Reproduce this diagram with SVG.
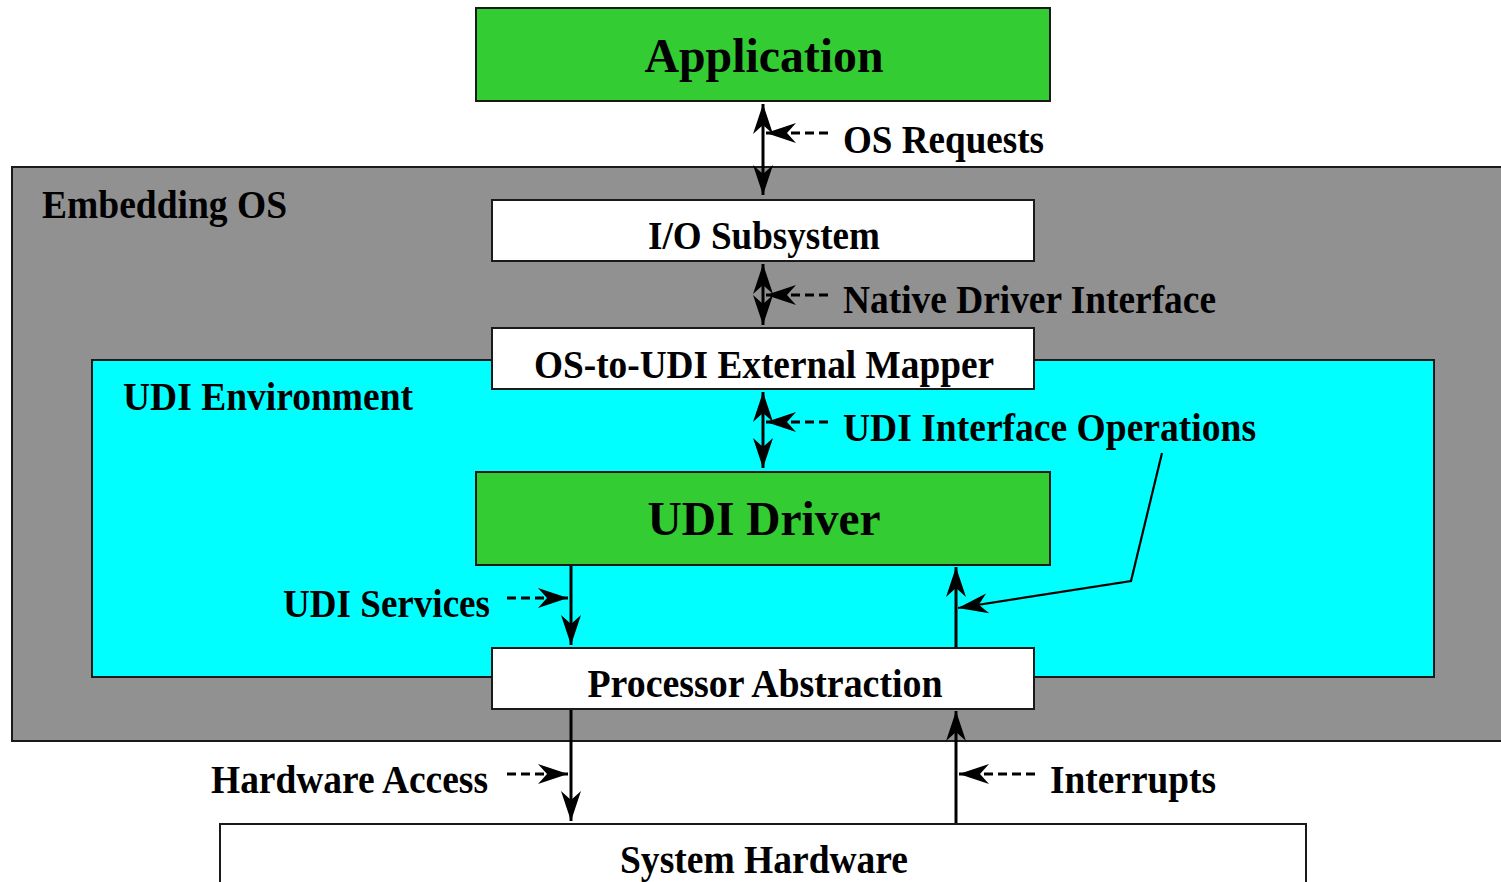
<svg xmlns="http://www.w3.org/2000/svg" width="1501" height="882" viewBox="0 0 1501 882">
<style>
  text { font-family: "Liberation Serif", "Times New Roman", serif; font-weight: bold; fill: #000; }
  .big { font-size: 48px; }
  .mid { font-size: 40px; }
  .box { stroke: #1a1a1a; stroke-width: 2; }
  .green { fill: #33cc33; }
  .white { fill: #ffffff; }
  .gray { fill: #919191; }
  .cyan { fill: #00ffff; }
  .main { fill: none; stroke: #000; stroke-width: 3; }
  .dash { fill: none; stroke: #000; stroke-width: 3; stroke-dasharray: 9 5; }
  .leader { fill: none; stroke: #000; stroke-width: 2.2; }
</style>
<defs>
  <marker id="ah" markerUnits="userSpaceOnUse" markerWidth="34" markerHeight="24" viewBox="-32 -12 34 24" refX="0" refY="0" orient="auto-start-reverse">
    <path d="M0,0 L-30,-10 L-21,0 L-30,10 Z" fill="#000"/>
  </marker>
</defs>
<rect width="1501" height="882" fill="#ffffff"/>

<g id="embedding-os">
  <rect class="box gray" x="12" y="167" width="1500" height="574"/>
  <text class="mid" x="42" y="218" textLength="245" lengthAdjust="spacingAndGlyphs">Embedding OS</text>
</g>
<g id="udi-environment">
  <rect class="box cyan" x="92" y="360" width="1342" height="317"/>
  <text class="mid" x="123" y="410" textLength="290" lengthAdjust="spacingAndGlyphs">UDI Environment</text>
</g>
<g id="application">
  <rect class="box green" x="476" y="8" width="574" height="93"/>
  <text class="big" x="764" y="72" text-anchor="middle" textLength="239" lengthAdjust="spacingAndGlyphs">Application</text>
</g>
<g id="io-subsystem">
  <rect class="box white" x="492" y="200" width="542" height="61"/>
  <text class="mid" x="764" y="249" text-anchor="middle" textLength="232" lengthAdjust="spacingAndGlyphs">I/O Subsystem</text>
</g>
<g id="external-mapper">
  <rect class="box white" x="492" y="328" width="542" height="61"/>
  <text class="mid" x="764" y="378" text-anchor="middle" textLength="460" lengthAdjust="spacingAndGlyphs">OS-to-UDI External Mapper</text>
</g>
<g id="udi-driver">
  <rect class="box green" x="476" y="472" width="574" height="93"/>
  <text class="big" x="764" y="535" text-anchor="middle" textLength="233" lengthAdjust="spacingAndGlyphs">UDI Driver</text>
</g>
<g id="processor-abstraction">
  <rect class="box white" x="492" y="648" width="542" height="61"/>
  <text class="mid" x="765" y="697" text-anchor="middle" textLength="355" lengthAdjust="spacingAndGlyphs">Processor Abstraction</text>
</g>
<g id="system-hardware">
  <rect class="box white" x="220" y="824" width="1086" height="80"/>
  <text class="mid" x="764" y="873" text-anchor="middle" textLength="288" lengthAdjust="spacingAndGlyphs">System Hardware</text>
</g>

<g id="connectors">
  <line class="main" x1="763" y1="104" x2="763" y2="195" marker-start="url(#ah)" marker-end="url(#ah)"/>
  <line class="dash" x1="828" y1="133" x2="766" y2="133" marker-end="url(#ah)"/>
  <line class="main" x1="763" y1="264" x2="763" y2="325" marker-start="url(#ah)" marker-end="url(#ah)"/>
  <line class="dash" x1="828" y1="295" x2="766" y2="295" marker-end="url(#ah)"/>
  <line class="main" x1="763" y1="392" x2="763" y2="468" marker-start="url(#ah)" marker-end="url(#ah)"/>
  <line class="dash" x1="828" y1="422" x2="766" y2="422" marker-end="url(#ah)"/>

  <line class="main" x1="571" y1="566" x2="571" y2="645" marker-end="url(#ah)"/>
  <line class="dash" x1="507" y1="598" x2="568" y2="598" marker-end="url(#ah)"/>
  <line class="main" x1="956" y1="647" x2="956" y2="567" marker-end="url(#ah)"/>
  <polyline class="leader" points="1162,453 1131,581 958,608" marker-end="url(#ah)"/>

  <line class="main" x1="571" y1="710" x2="571" y2="821" marker-end="url(#ah)"/>
  <line class="dash" x1="507" y1="774" x2="568" y2="774" marker-end="url(#ah)"/>
  <line class="main" x1="956" y1="823" x2="956" y2="711" marker-end="url(#ah)"/>
  <line class="dash" x1="1035" y1="774" x2="959" y2="774" marker-end="url(#ah)"/>

  <text class="mid" x="843" y="153" textLength="201" lengthAdjust="spacingAndGlyphs">OS Requests</text>
  <text class="mid" x="843" y="313" textLength="373" lengthAdjust="spacingAndGlyphs">Native Driver Interface</text>
  <text class="mid" x="843" y="441" textLength="413" lengthAdjust="spacingAndGlyphs">UDI Interface Operations</text>
  <text class="mid" x="283" y="617" textLength="207" lengthAdjust="spacingAndGlyphs">UDI Services</text>
  <text class="mid" x="211" y="793" textLength="277" lengthAdjust="spacingAndGlyphs">Hardware Access</text>
  <text class="mid" x="1050" y="793" textLength="166" lengthAdjust="spacingAndGlyphs">Interrupts</text>
</g>
</svg>
